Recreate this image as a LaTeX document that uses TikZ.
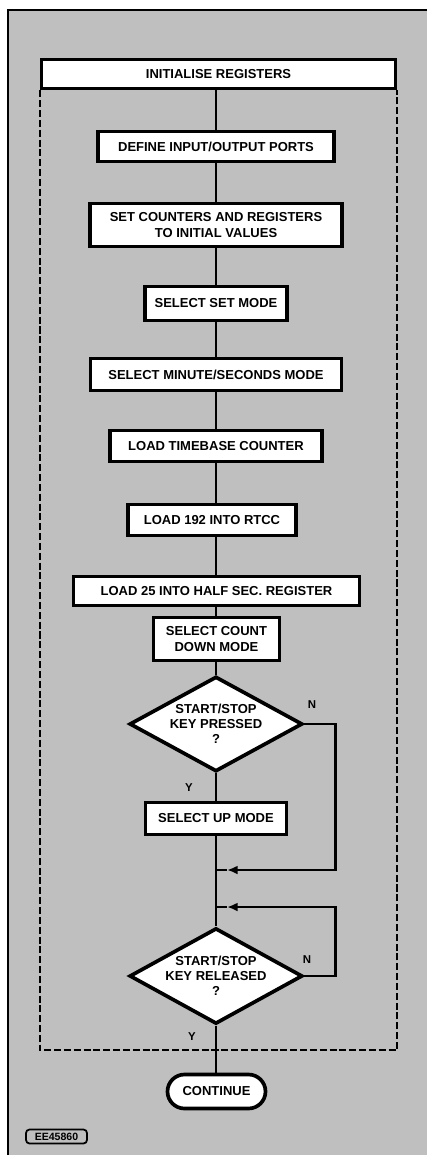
\documentclass[tikz,border=0pt]{standalone}
\usepackage{fontspec}
\setmainfont{Liberation Sans}
\usetikzlibrary{arrows.meta,positioning,shapes.geometric,shapes.misc}
\definecolor{fcpaper}{HTML}{BFBFBF}
\newlength\pxu
\setlength\pxu{0.02cm}

\begin{document}
\begin{tikzpicture}[
  x=0.02cm, y=-0.02cm,
  proc/.style={draw,fill=white,line width=2.1pt,inner sep=0pt,align=center,
               font=\fontsize{7.4}{8.6}\selectfont\bfseries},
  dec/.style={diamond,draw,fill=white,line width=2.1pt,inner sep=0pt,aspect=1.8,
              align=center,minimum width=173\pxu,minimum height=95\pxu,
              font=\fontsize{7.4}{8.6}\selectfont\bfseries},
  term/.style={rounded rectangle,draw,fill=white,line width=2.1pt,inner sep=0pt,
               minimum width=98\pxu,minimum height=34\pxu,
               font=\fontsize{7.4}{8.6}\selectfont\bfseries},
  lbl/.style={font=\fontsize{6.5}{7}\selectfont\bfseries,inner sep=0pt},
  conn/.style={line width=1.4pt},
  loopback/.style={line width=1.4pt,-{Latex[length=6pt,width=5pt]}},
  dashframe/.style={line width=1.2pt,dash pattern=on 4pt off 1.6pt},
  tagbox/.style={draw,rounded corners=2pt,line width=1pt,inner sep=0pt,
                 minimum width=61\pxu,minimum height=14\pxu,
                 font=\fontsize{6}{6}\selectfont\bfseries}
]
\useasboundingbox (0,0) rectangle (427,1155);

% ---- Page ---------------------------------------------------
\fill[fcpaper] (8,10) rectangle (427,1155);
\draw[line width=0.8pt] (427,10) -- (8,10) -- (8,1155);

% ---- Set-up steps -------------------------------------------
\node[proc,minimum width=354\pxu,minimum height=29\pxu] (init) at (218.5,74)
  {INITIALISE REGISTERS};
\node[proc,minimum width=236\pxu,minimum height=30\pxu] (ports) at (216,146.5)
  {DEFINE INPUT/OUTPUT PORTS};
\node[proc,minimum width=252\pxu,minimum height=43\pxu] (setcnt) at (216,225)
  {SET COUNTERS AND REGISTERS\\TO INITIAL VALUES};
\node[proc,minimum width=142\pxu,minimum height=34\pxu] (setmode) at (216,303.5)
  {SELECT SET MODE};
\node[proc,minimum width=251\pxu,minimum height=32\pxu] (minsec) at (216,374.5)
  {SELECT MINUTE/SECONDS MODE};
\node[proc,minimum width=212\pxu,minimum height=31\pxu] (tbase) at (216,446)
  {LOAD TIMEBASE COUNTER};
\node[proc,minimum width=168\pxu,minimum height=31\pxu] (rtcc) at (212,520)
  {LOAD 192 INTO RTCC};
\node[proc,minimum width=286\pxu,minimum height=29\pxu] (halfsec) at (216.5,591)
  {LOAD 25 INTO HALF SEC. REGISTER};
\node[proc,minimum width=126\pxu,minimum height=43\pxu] (cdown) at (216.5,639)
  {SELECT COUNT\\DOWN MODE};

% ---- Key tests ----------------------------------------------
\node[dec] (press) at (216,724) {START/STOP\\KEY PRESSED\\?};
\node[proc,minimum width=141\pxu,minimum height=32\pxu] (upmode) at (216,818.5)
  {SELECT UP MODE};
\node[dec] (release) at (216,976) {START/STOP\\KEY RELEASED\\?};
\node[term] (cont) at (216.5,1091.5) {CONTINUE};

\node[lbl] (n1) at (312,705) {N};
\node[lbl] (y1) at (189,788) {Y};
\node[lbl] (n2) at (307,960) {N};
\node[lbl] (y2) at (192,1037) {Y};

\node[tagbox] (tag) at (56.5,1136.5) {EE45860};

% ---- Junctions ----------------------------------------------
\coordinate (j1) at (216,870);
\coordinate (j1a) at (227,870);
\coordinate (j2) at (216,907);
\coordinate (j2a) at (227,907);
\coordinate (dbot) at (216,1050);

% ---- Connectors ---------------------------------------------
\draw[conn] (ports.north |- init.south) -- (ports.north);
\draw[conn] (ports) -- (setcnt);
\draw[conn] (setcnt) -- (setmode);
\draw[conn] (setmode) -- (minsec);
\draw[conn] (minsec) -- (tbase);
\draw[conn] (tbase.south -| minsec.south) -- (rtcc.north -| minsec.south);
\draw[conn] (rtcc.south -| minsec.south) -- (halfsec.north -| minsec.south);
\draw[conn] (halfsec.south -| minsec.south) -- (cdown.north -| minsec.south);
\draw[conn] (cdown.south -| press.north) -- (press.north);
\draw[conn] (press.south) -- (upmode.north);
\draw[conn] (upmode.south) -- (release.north);
\draw[conn] (release.south) -- (cont.north -| release.south);

% N branches back into the main line
\draw[loopback] (press.east) -- ++(31,0) |- (j1a);
\draw[conn] (j1a) -- (j1);
\draw[loopback] (release.east) -- ++(31,0) |- (j2a);
\draw[conn] (j2a) -- (j2);

% Dashed outline below the first step
\draw[dashframe] (init.south west) -- (init.south west |- dbot)
  -- (init.south east |- dbot) -- (init.south east);

\end{tikzpicture}
\end{document}
